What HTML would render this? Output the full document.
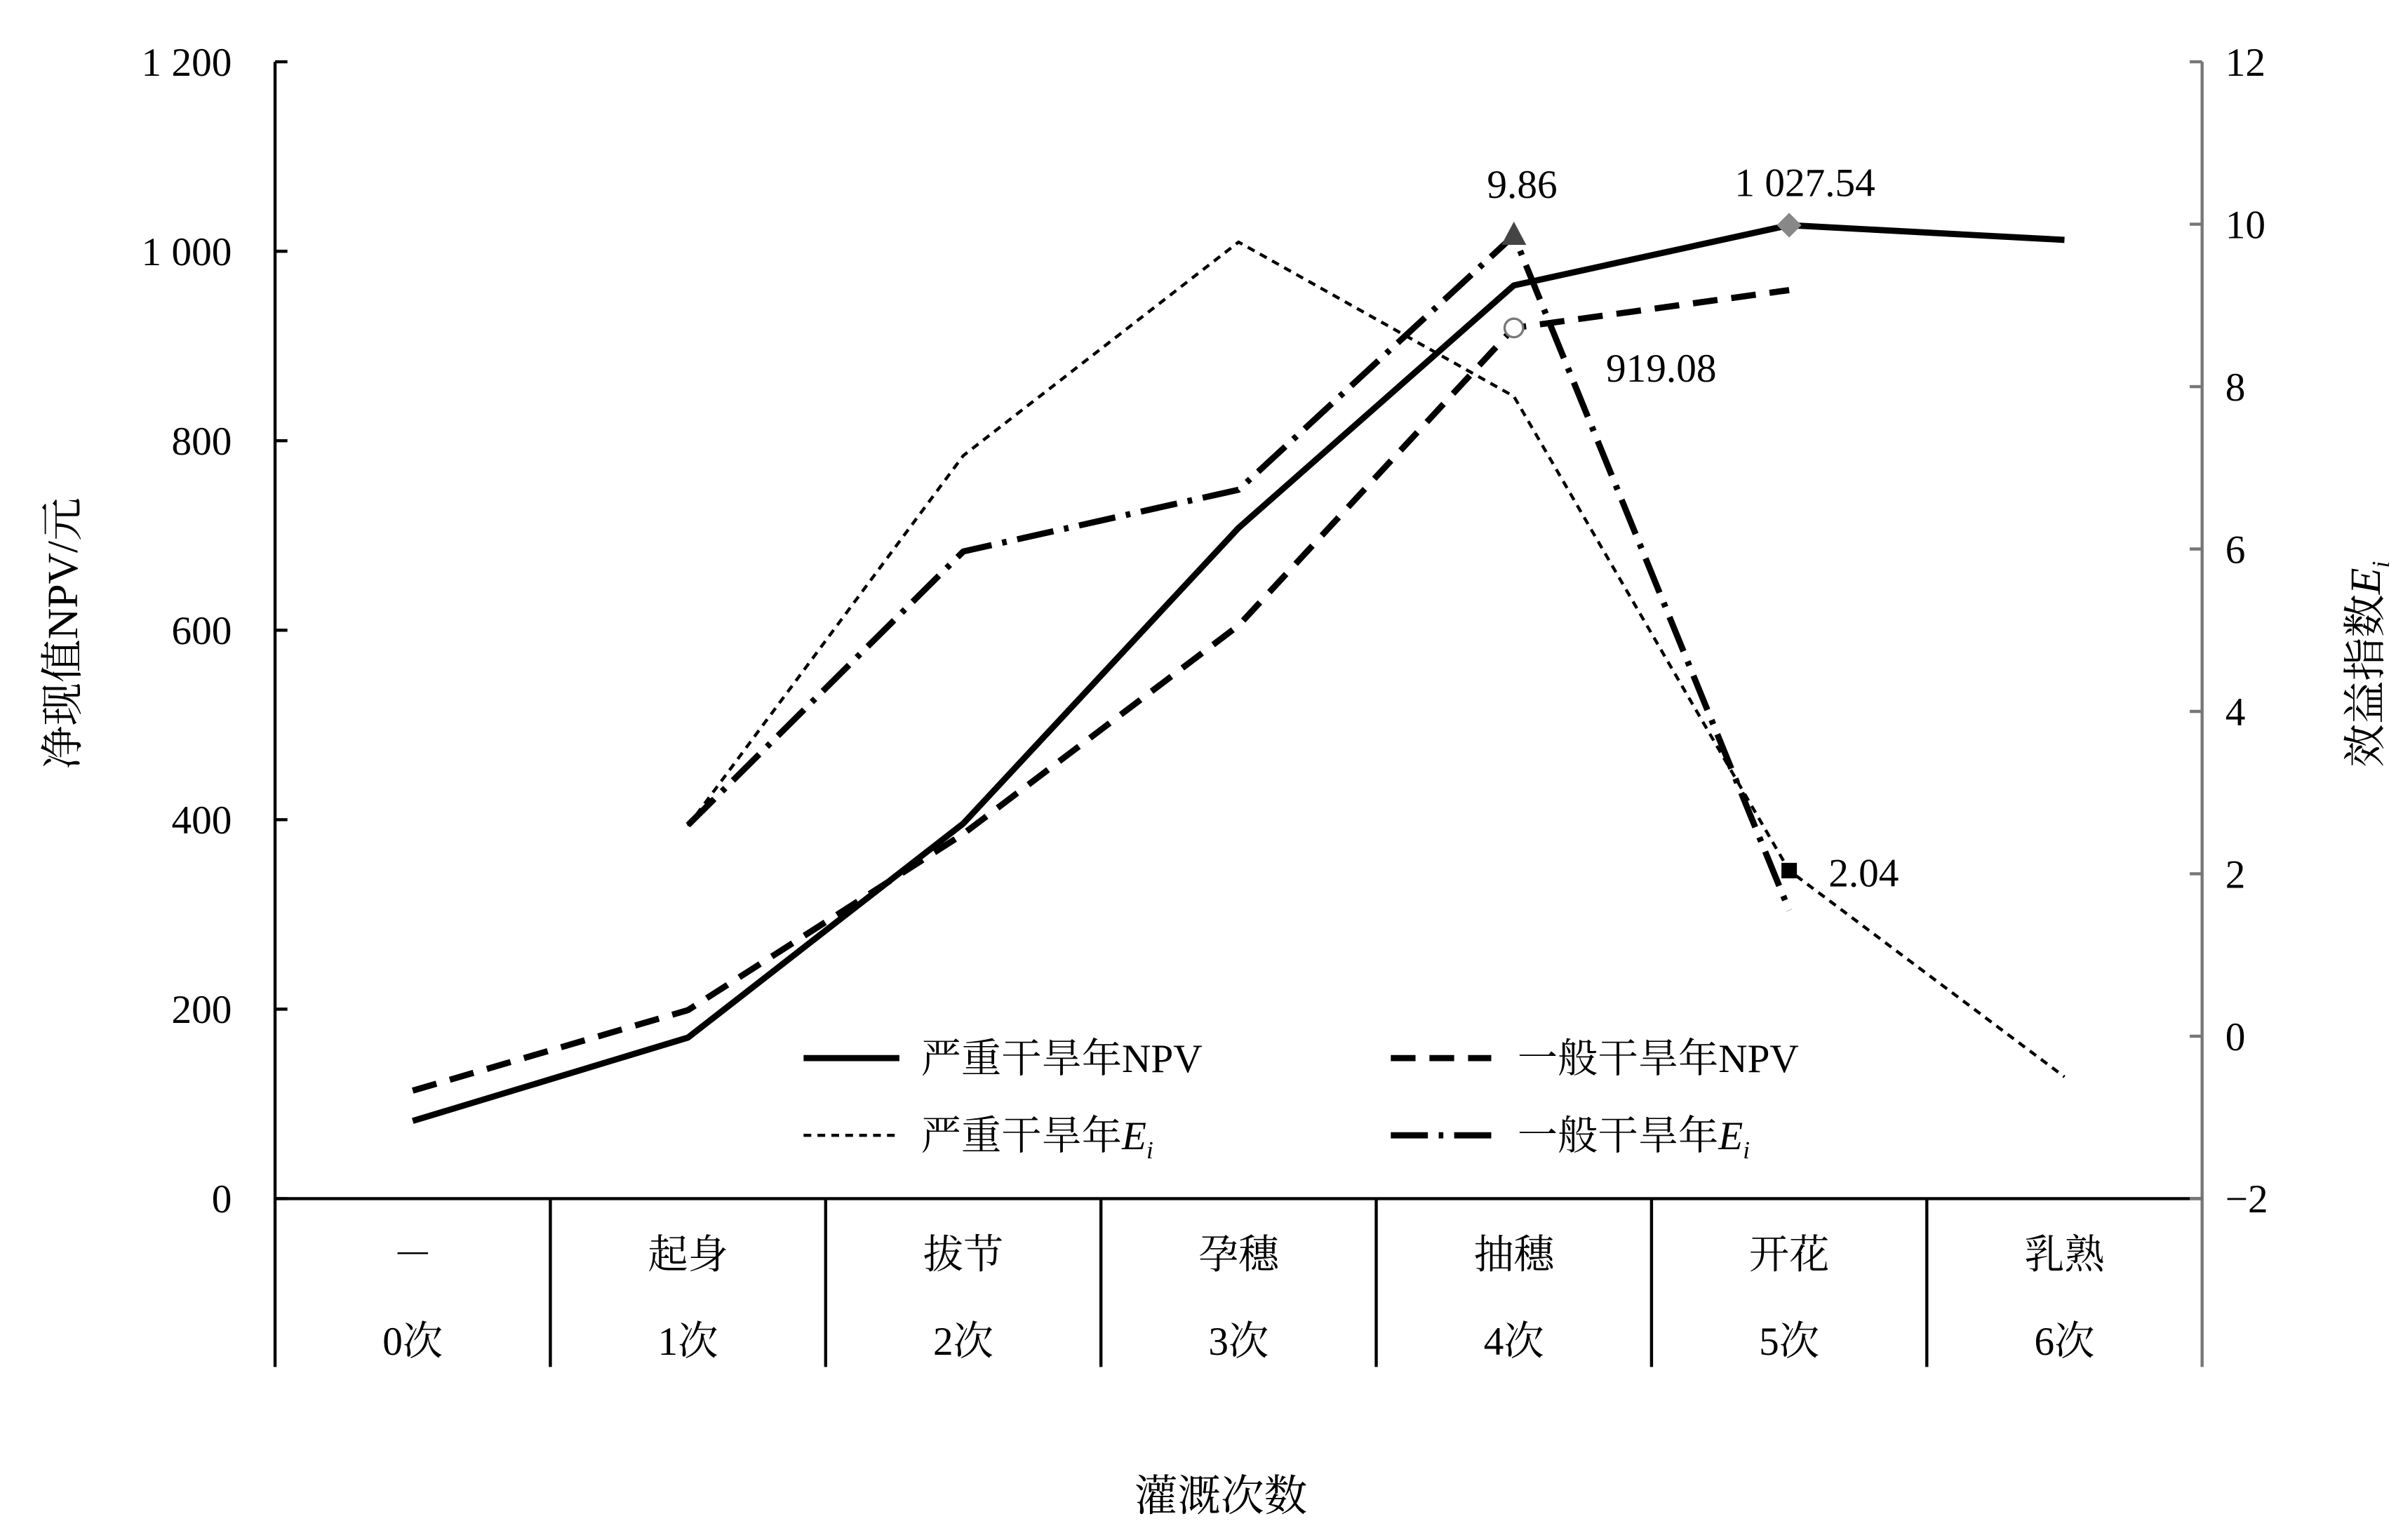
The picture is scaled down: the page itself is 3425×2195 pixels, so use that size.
<!DOCTYPE html>
<html><head><meta charset="utf-8"><style>
html,body{margin:0;padding:0;background:#fff}
svg{display:block}
text{font-family:"Liberation Serif","Noto Serif CJK SC",serif;fill:#000}
</style></head><body>
<svg id="chart" width="3425" height="2195" viewBox="0 0 1555 997" preserveAspectRatio="none" xmlns="http://www.w3.org/2000/svg">
<g id="axes"></g>
<g id="series"></g>
<g id="legend">
  <line x1="520" y1="685" x2="582" y2="685" stroke="#000" stroke-width="4"/>
  <text x="596" y="694" font-size="26">严重干旱年NPV</text>
  <line x1="900" y1="685" x2="965" y2="685" stroke="#000" stroke-width="4" stroke-dasharray="16,9"/>
  <text x="982" y="694" font-size="26">一般干旱年NPV</text>
  <line x1="520" y1="735" x2="582" y2="735" stroke="#000" stroke-width="2" stroke-dasharray="5,4"/>
  <text x="596" y="744" font-size="26">严重干旱年<tspan font-style="italic">E</tspan><tspan font-size="16" font-style="italic" dy="6">i</tspan></text>
  <line x1="900" y1="735" x2="965" y2="735" stroke="#000" stroke-width="4" stroke-dasharray="24,7,3,7"/>
  <text x="982" y="744" font-size="26">一般干旱年<tspan font-style="italic">E</tspan><tspan font-size="16" font-style="italic" dy="6">i</tspan></text>
</g>
</svg>
<script>
const categories = ["－","起身","拔节","孕穗","抽穗","开花","乳熟"];
const counts = ["0次","1次","2次","3次","4次","5次","6次"];
const leftTicks = [0,200,400,600,800,1000,1200];
const leftTickLabels = ["0","200","400","600","800","1 000","1 200"];
const rightTicks = [-2,0,2,4,6,8,10,12];
const rightTickLabels = ["−2","0","2","4","6","8","10","12"];
const severeNPV = [82,170,396,708,964,1027.54,1012];
const generalNPV = [114,199,385,605,919.08,959,null];
const severeEi = [null,2.59,7.15,9.78,7.88,2.04,-0.5];
const generalEi = [null,2.6,5.97,6.73,9.86,1.55,null];

const NS="http://www.w3.org/2000/svg";
const X0=178,X1=1425,YT=40,YB=776;
const catW=(X1-X0)/categories.length;
function xc(i){return X0+catW*(i+0.5);}
function yL(v){return YB-(v-0)/(1200-0)*(YB-YT);}
function yR(v){return YB-(v+2)/(12+2)*(YB-YT);}
function mk(tag,attrs,parent){const e=document.createElementNS(NS,tag);for(const k in attrs)e.setAttribute(k,attrs[k]);parent.appendChild(e);return e;}
const axes=document.getElementById('axes');
let e;
e=mk('line',{x1:X0,y1:YT,x2:X0,y2:885,stroke:'#000','stroke-width':2},axes);


e=mk('line',{x1:X1,y1:YT,x2:X1,y2:885,stroke:'#777','stroke-width':2},axes);


e=mk('line',{x1:X0,y1:YB,x2:X1,y2:YB,stroke:'#000','stroke-width':2},axes);


leftTicks.forEach((v,i)=>{
  mk('line',{x1:X0,y1:yL(v),x2:X0+8,y2:yL(v),stroke:'#000','stroke-width':2},axes);
  const t=mk('text',{x:150,y:yL(v)+9,'font-size':26,'text-anchor':'end'},axes);t.textContent=leftTickLabels[i];
  
  
});
rightTicks.forEach((v,i)=>{
  mk('line',{x1:X1-8,y1:yR(v),x2:X1,y2:yR(v),stroke:'#777','stroke-width':2},axes);
  const t=mk('text',{x:1440,y:yR(v)+9,'font-size':26},axes);t.textContent=rightTickLabels[i];
  
  
});
for(let i=1;i<categories.length;i++){
  e=mk('line',{x1:X0+catW*i,y1:YB,x2:X0+catW*i,y2:885,stroke:'#000','stroke-width':2},axes);
  
  
}
categories.forEach((c,i)=>{
  let t=mk('text',{x:xc(i),y:821,'font-size':26,'text-anchor':'middle'},axes);t.textContent=c;
  
  
  t=mk('text',{x:xc(i),y:877,'font-size':26,'text-anchor':'middle'},axes);t.textContent=counts[i];
  
  
});
e=mk('text',{x:790,y:978,'font-size':28,'text-anchor':'middle'},axes);e.textContent='灌溉次数';


e=mk('text',{x:0,y:0,'font-size':28,'text-anchor':'middle',transform:'translate(50,410) rotate(-90)'},axes);e.textContent='净现值NPV/元';


e=mk('text',{x:0,y:0,'font-size':28,'text-anchor':'middle',transform:'translate(1540,430) rotate(-90)'},axes);
e.innerHTML='效益指数<tspan font-style="italic">E</tspan><tspan font-size="16" font-style="italic" dy="6">i</tspan>';



const series=document.getElementById('series');
function drawLine(vals,yf,attrs,name){
  const pts=[];vals.forEach((v,i)=>{if(v!==null)pts.push(xc(i)+','+yf(v));});
  const p=mk('polyline',Object.assign({points:pts.join(' '),fill:'none',stroke:'#000','stroke-linejoin':'round'},attrs),series);
  
  
}
drawLine(severeEi,yR,{'stroke-width':2,'stroke-dasharray':'5,4'},'severe-ei-line');
drawLine(generalEi,yR,{'stroke-width':4,'stroke-dasharray':'24,7,3,7'},'general-ei-line');
drawLine(generalNPV,yL,{'stroke-width':4,'stroke-dasharray':'16,9'},'general-npv-line');
drawLine(severeNPV,yL,{'stroke-width':4},'severe-npv-line');

// markers
let x,y;
x=xc(4);y=yR(generalEi[4]);
e=mk('polygon',{points:`${x},${y-9} ${x-8},${y+6} ${x+8},${y+6}`,fill:'#444'},series);


x=xc(4);y=yL(generalNPV[4]);
e=mk('circle',{cx:x,cy:y,r:6,fill:'#fff',stroke:'#777','stroke-width':1.5},series);


x=xc(5);y=yL(severeNPV[5]);
e=mk('polygon',{points:`${x},${y-8} ${x+8},${y} ${x},${y+8} ${x-8},${y}`,fill:'#888'},series);


x=xc(5);y=yR(severeEi[5]);
e=mk('rect',{x:x-5,y:y-5,width:10,height:10,fill:'#000'},series);



function label(txt,x,y,name){const t=mk('text',{x:x,y:y,'font-size':26,'text-anchor':'middle'},series);t.textContent=txt;
  
  }
label(String(generalEi[4]),985,128,'label-9-86');
label('1 027.54',1168,127,'label-1027-54');
label(String(generalNPV[4]),1075,247,'label-919-08');
label(severeEi[5].toFixed(2),1206,574,'label-2-04');
</script>
</body></html>
